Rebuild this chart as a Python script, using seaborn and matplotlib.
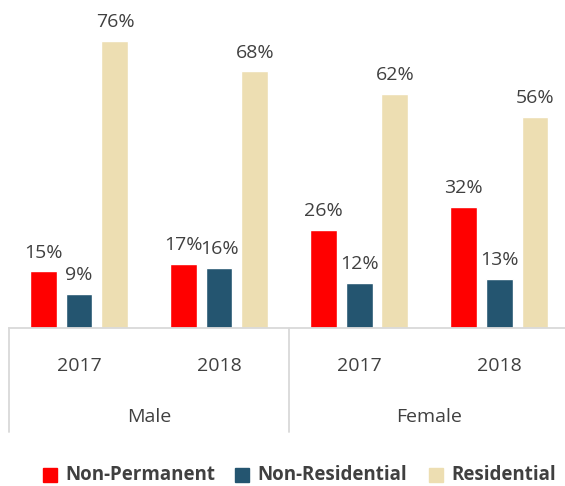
import pandas as pd
import numpy as np
import matplotlib
matplotlib.use("Agg")
import matplotlib.pyplot as plt
import seaborn as sns

# Data
groups = ["Male", "Male", "Female", "Female"]
years = ["2017", "2018", "2017", "2018"]
categories = ["Non-Permanent", "Non-Residential", "Residential"]
non_permanent = [15, 17, 26, 32]
non_residential = [9, 16, 12, 13]
residential = [76, 68, 62, 56]
colors = ["#ff0000", "#245570", "#eddeb2"]

rows = []
for i in range(len(years)):
    key = groups[i] + " " + years[i]
    rows.append([key, categories[0], non_permanent[i]])
    rows.append([key, categories[1], non_residential[i]])
    rows.append([key, categories[2], residential[i]])
data = pd.DataFrame(rows, columns=["Group", "Type", "Share"])

sns.set_style("white")
plt.rcParams["font.family"] = ["Open Sans", "DejaVu Sans"]
text_color = "#404040"
line_color = "#d9d9d9"

fig = plt.figure(figsize=(5.65, 4.86), dpi=100)
ax = fig.add_axes([9 / 565, 158 / 486, 556 / 565, 328 / 486])

sns.barplot(data=data, x="Group", y="Share", hue="Type", palette=colors,
            width=0.77, gap=0.25, ax=ax, legend=False, saturation=1)

for container in ax.containers:
    ax.bar_label(container, labels=[f"{v:.0f}%" for v in container.datavalues],
                 padding=7, fontsize=14, color=text_color)

ax.set_xlim(-0.5, 3.471)
ax.set_ylim(0, 86.9)
ax.set_xlabel("")
ax.set_ylabel("")
ax.set_xticks([])
ax.set_yticks([])
for side in ["top", "right", "left"]:
    ax.spines[side].set_visible(False)
ax.spines["bottom"].set_color(line_color)
ax.spines["bottom"].set_linewidth(1.3)

# two-level category axis
trans = ax.get_xaxis_transform()
px = 1 / 328
for i, yr in enumerate(years):
    ax.text(i, -38 * px, yr, transform=trans, ha="center", va="center",
            fontsize=14, color=text_color)
ax.text(0.5, -89 * px, "Male", transform=trans, ha="center", va="center",
        fontsize=14, color=text_color)
ax.text(2.5, -89 * px, "Female", transform=trans, ha="center", va="center",
        fontsize=14, color=text_color)
for xpos in [-0.5, 1.5, 3.5]:
    ax.plot([xpos, xpos], [0, -104 * px], transform=trans, color=line_color,
            lw=1.3, clip_on=False)

# legend along the bottom
leg_x = [43, 235, 429]
for i, name in enumerate(categories):
    fig.patches.append(plt.Rectangle((leg_x[i] / 565, 4 / 486), 14 / 565, 14 / 486,
                                     transform=fig.transFigure, color=colors[i]))
    fig.text((leg_x[i] + 22) / 565, 11 / 486, name, ha="left", va="center",
             fontsize=13.5, fontweight="bold", color=text_color)

fig.savefig("out.png", dpi=100)
